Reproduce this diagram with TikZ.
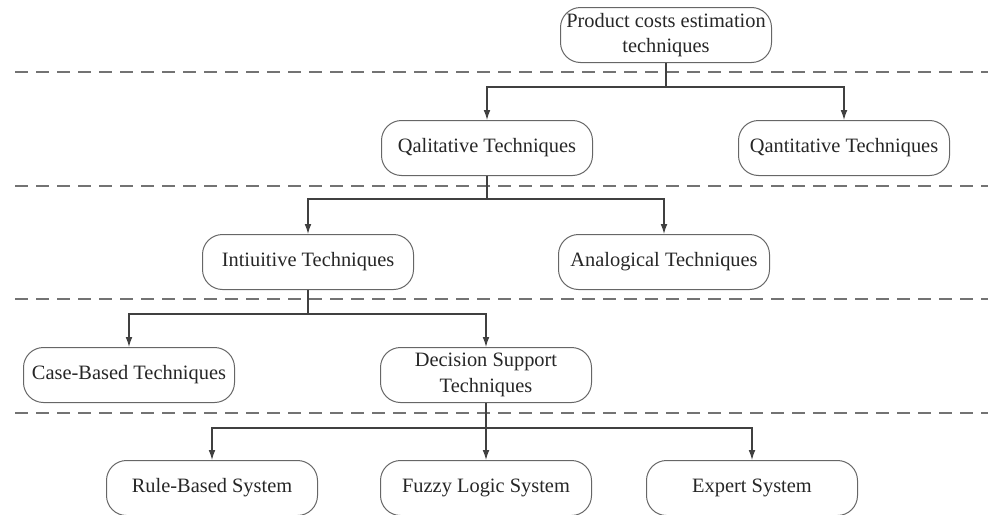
\documentclass[tikz,border=0pt]{standalone}
\usepackage{fontspec}
\setmainfont{Liberation Serif}
\usepackage{tikz}
\usetikzlibrary{arrows.meta}

\begin{document}
\begin{tikzpicture}[x=0.5pt, y=-0.5pt, line width=0.6pt,
    box/.style={draw=black!60, line width=0.5pt, rounded corners=10pt,
        minimum width=105.5pt, minimum height=27.5pt, align=center,
        text=black!85, font=\fontsize{10.2}{12.6}\selectfont, inner sep=1pt},
    arr/.style={-{Latex[length=5pt, width=3.4pt]}, black!75},
    sep/.style={draw=black!55, dash pattern=on 6.5pt off 4pt}]
            \useasboundingbox (0, 0) rectangle (990, 514);

            % Levels of the tree
            \node[box] (root) at (666, 35) {Product costs estimation\\techniques};
            \node[box] (qual) at (487, 148) {Qalitative Techniques};
            \node[box] (quant) at (844, 148) {Qantitative Techniques};
            \node[box] (intui) at (308, 262) {Intiuitive Techniques};
            \node[box] (analog) at (664, 262) {Analogical Techniques};
            \node[box] (case) at (129, 375) {Case-Based Techniques};
            \node[box] (dss) at (486, 375) {Decision Support\\Techniques};
            \node[box] (rule) at (212, 488) {Rule-Based System};
            \node[box] (fuzzy) at (486, 488) {Fuzzy Logic System};
            \node[box] (expert) at (752, 488) {Expert System};

            % Dashed separators between levels
            \foreach \y in {72, 186, 299, 413}
                \draw[sep] (15, \y) -- (988, \y);

            % Heights of the horizontal bars
            \coordinate (bar1) at (0, 87);
            \coordinate (bar2) at (0, 199);
            \coordinate (bar3) at (0, 314);
            \coordinate (bar4) at (0, 428);

            % Connectors
            \draw[arr] (root.south) -- (root.south |- bar1) -| (qual.north);
            \draw[arr] (root.south) -- (root.south |- bar1) -| (quant.north);
            \draw[arr] (qual.south) -- (qual.south |- bar2) -| (intui.north);
            \draw[arr] (qual.south) -- (qual.south |- bar2) -| (analog.north);
            \draw[arr] (intui.south) -- (intui.south |- bar3) -| (case.north);
            \draw[arr] (intui.south) -- (intui.south |- bar3) -| (dss.north);
            \draw[arr] (dss.south) -- (dss.south |- bar4) -| (rule.north);
            \draw[arr] (dss.south) -- (dss.south |- bar4) -| (fuzzy.north);
            \draw[arr] (dss.south) -- (dss.south |- bar4) -| (expert.north);
        \end{tikzpicture}
\end{document}
